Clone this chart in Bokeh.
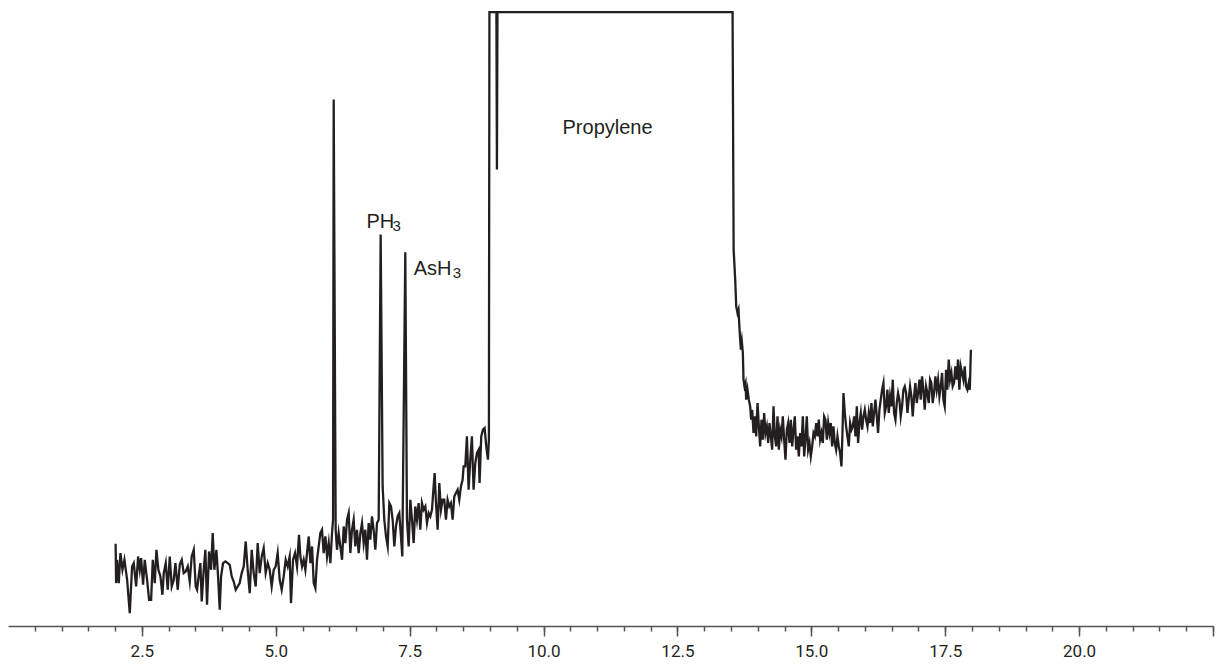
#!/usr/bin/env python3
# -*- coding: utf-8 -*-
from bokeh.core.properties import value
from bokeh.embed import file_html
from bokeh.models import FixedTicker, PrintfTickFormatter, Range1d
from bokeh.plotting import figure
from bokeh.resources import INLINE

# baseline before propylene (time in min, detector signal in arbitrary units)
early_time = [
    2.000, 2.009, 2.028, 2.059, 2.090, 2.128, 2.165, 2.215, 2.264, 2.308,
    2.339, 2.383, 2.420, 2.451, 2.476, 2.513, 2.544, 2.588, 2.625, 2.663,
    2.694, 2.731, 2.762, 2.799, 2.837, 2.874, 2.899, 2.936, 2.973, 3.011,
    3.048, 3.085, 3.117, 3.160, 3.197, 3.235, 3.272, 3.309, 3.347, 3.384,
    3.421, 3.459, 3.496, 3.521, 3.558, 3.583, 3.608, 3.645, 3.676, 3.707,
    3.745, 3.782, 3.813, 3.844, 3.882, 3.913, 3.944, 3.969, 4.006, 4.050,
    4.093, 4.131, 4.168, 4.205, 4.243, 4.280, 4.317, 4.354, 4.392, 4.429,
    4.466, 4.504, 4.541, 4.578, 4.616, 4.653, 4.690, 4.728, 4.765, 4.802,
    4.840, 4.877, 4.914, 4.952, 4.989, 5.026, 5.064, 5.101, 5.138, 5.176,
    5.213, 5.250, 5.275, 5.313, 5.350, 5.387, 5.424,
]
early_signal = [
    82.7, 43.4, 66.7, 43.4, 73.4, 56.7, 66.7, 46.7, 13.4, 60.0,
    63.4, 40.0, 70.0, 56.7, 68.4, 41.7, 66.7, 46.7, 26.7, 26.7,
    66.7, 43.4, 76.7, 56.7, 50.0, 31.7, 53.4, 63.4, 36.7, 70.0,
    40.0, 46.7, 63.4, 36.7, 61.7, 66.7, 53.4, 55.0, 60.0, 45.0,
    70.0, 76.7, 40.0, 36.7, 53.4, 63.4, 25.0, 56.7, 76.7, 21.7,
    75.0, 56.7, 93.4, 56.7, 76.7, 50.0, 16.7, 50.0, 63.4, 65.0,
    63.4, 61.7, 50.0, 45.0, 36.7, 40.0, 43.4, 53.4, 60.0, 85.0,
    56.7, 33.4, 76.7, 53.4, 40.0, 83.4, 53.4, 70.0, 78.4, 53.4,
    63.4, 56.7, 40.0, 56.7, 60.0, 73.4, 46.7, 36.7, 50.0, 66.7,
    60.0, 70.0, 23.4, 66.7, 73.4, 60.0, 91.7,
]

# peaks region (unknown, PH3, AsH3) up to the propylene front
peak_time = [
    5.450, 5.481, 5.512, 5.543, 5.574, 5.606, 5.637, 5.668, 5.699, 5.730,
    5.761, 5.792, 5.823, 5.854, 5.885, 5.917, 5.948, 5.979, 6.010, 6.041,
    6.060, 6.072, 6.109, 6.134, 6.165, 6.196, 6.228, 6.259, 6.290, 6.321,
    6.352, 6.383, 6.414, 6.445, 6.476, 6.507, 6.539, 6.570, 6.601, 6.632,
    6.663, 6.694, 6.725, 6.756, 6.787, 6.818, 6.850, 6.881, 6.912, 6.949,
    6.986, 7.017, 7.049, 7.080, 7.111, 7.142, 7.173, 7.204, 7.235, 7.266,
    7.297, 7.328, 7.353, 7.409, 7.440, 7.472, 7.503, 7.534, 7.565, 7.596,
    7.627, 7.658, 7.689, 7.720, 7.751, 7.783, 7.814, 7.845, 7.876, 7.907,
    7.938, 7.957, 7.982, 8.013, 8.044, 8.075, 8.106, 8.137, 8.168, 8.199,
    8.230, 8.261, 8.293, 8.324, 8.355, 8.386, 8.417, 8.448, 8.479, 8.498,
    8.529, 8.560, 8.591, 8.622, 8.653, 8.684, 8.716, 8.747, 8.778, 8.796,
    8.827, 8.859, 8.890, 8.921, 8.952, 8.970,
]
peak_signal = [
    70.0, 60.0, 66.7, 56.7, 73.4, 90.0, 63.4, 80.0, 43.4, 38.4,
    66.7, 80.0, 93.4, 96.7, 73.4, 90.0, 70.0, 83.4, 63.4, 93.4,
    106.7, 526.7, 96.7, 76.7, 93.4, 80.0, 66.7, 100.0, 83.4, 106.7,
    113.4, 73.4, 96.7, 106.7, 80.0, 96.7, 73.4, 93.4, 103.4, 83.4,
    96.7, 66.7, 103.4, 86.7, 110.0, 96.7, 76.7, 103.4, 106.7, 391.7,
    140.0, 106.7, 90.0, 80.0, 123.4, 120.0, 106.7, 80.0, 100.0, 110.0,
    113.4, 90.0, 70.0, 374.0, 106.7, 80.0, 126.7, 106.7, 83.4, 120.0,
    106.7, 123.4, 96.7, 123.4, 116.7, 120.0, 103.4, 113.4, 110.0, 116.7,
    140.0, 153.4, 123.4, 96.7, 143.4, 116.7, 126.7, 126.7, 106.7, 126.7,
    120.0, 123.4, 106.7, 130.0, 133.4, 136.7, 126.7, 140.0, 146.7, 160.0,
    160.0, 190.0, 136.7, 166.7, 190.0, 136.7, 163.4, 173.4, 176.7, 143.4,
    190.0, 196.7, 198.4, 180.0, 166.7, 186.7,
]

# saturated propylene band
propylene_time = [8.980, 9.110, 9.120, 9.130, 13.520, 13.540]
propylene_signal = [614.0, 614.0, 456.7, 614.0, 614.0, 376.7]

# tail after propylene
tail_time = [
    13.569, 13.588, 13.612, 13.631, 13.650, 13.675, 13.693, 13.712, 13.724, 13.743,
    13.762, 13.774, 13.799, 13.824, 13.849, 13.867, 13.886, 13.911, 13.936, 13.961,
    13.986, 14.011, 14.035, 14.060, 14.085, 14.110, 14.135, 14.160, 14.185, 14.210,
    14.235, 14.259, 14.284, 14.309, 14.334, 14.359, 14.384, 14.409, 14.434, 14.458,
    14.483, 14.508, 14.533, 14.558, 14.583, 14.608, 14.633, 14.658, 14.682, 14.707,
    14.732, 14.757, 14.782, 14.807, 14.832, 14.857, 14.881, 14.906, 14.931, 14.956,
    14.981, 15.006, 15.031, 15.056, 15.081, 15.105, 15.130, 15.155, 15.180, 15.205,
    15.230, 15.255, 15.280, 15.305, 15.329, 15.354, 15.379, 15.404, 15.429, 15.454,
    15.479, 15.504, 15.528, 15.553, 15.572, 15.591, 15.616, 15.640, 15.665, 15.690,
    15.715, 15.740, 15.765, 15.790, 15.815, 15.840, 15.864, 15.889, 15.914, 15.939,
    15.964, 15.989, 16.014, 16.039, 16.063, 16.088, 16.113, 16.138, 16.163, 16.188,
    16.213, 16.237, 16.262, 16.287, 16.312, 16.337, 16.362, 16.387, 16.411, 16.436,
    16.461, 16.486, 16.511, 16.536, 16.561, 16.586, 16.610, 16.635, 16.660, 16.685,
    16.710, 16.735, 16.760, 16.785, 16.809, 16.834, 16.859, 16.884, 16.909, 16.934,
    16.959, 16.984, 17.009, 17.033, 17.058, 17.083, 17.108, 17.133, 17.158, 17.183,
    17.208, 17.232, 17.257, 17.282, 17.307, 17.332, 17.357, 17.382, 17.407, 17.432,
    17.456, 17.481, 17.506, 17.531, 17.556, 17.581, 17.606, 17.630, 17.655, 17.680,
    17.705, 17.730, 17.755, 17.780, 17.805, 17.830, 17.855, 17.879, 17.904, 17.929,
    17.950, 17.970,
]
tail_signal = [
    346.7, 320.0, 313.4, 316.7, 296.7, 276.7, 285.0, 273.4, 246.7, 240.0,
    243.4, 226.7, 236.7, 226.7, 220.0, 206.7, 216.7, 193.4, 210.0, 190.0,
    223.4, 200.0, 180.0, 206.7, 186.7, 213.4, 193.4, 200.0, 183.4, 203.4,
    190.0, 176.7, 220.0, 190.0, 180.0, 210.0, 176.7, 196.7, 190.0, 210.0,
    186.7, 166.7, 196.7, 203.4, 183.4, 206.7, 180.0, 196.7, 210.0, 176.7,
    190.0, 170.0, 193.4, 180.0, 210.0, 170.0, 186.7, 210.0, 176.7, 183.4,
    170.0, 180.0, 193.4, 190.0, 203.4, 190.0, 206.7, 186.7, 193.4, 183.4,
    210.0, 206.7, 186.7, 203.4, 193.4, 203.4, 180.0, 200.0, 183.4, 176.7,
    190.0, 180.0, 173.4, 160.0, 193.4, 233.4, 213.4, 200.0, 190.0, 180.0,
    203.4, 196.7, 200.0, 210.0, 190.0, 220.0, 183.4, 203.4, 213.4, 196.7,
    210.0, 216.7, 206.7, 200.0, 213.4, 203.4, 223.4, 200.0, 213.4, 226.7,
    210.0, 193.4, 216.7, 226.7, 236.7, 243.4, 213.4, 220.0, 236.7, 213.4,
    230.0, 220.0, 246.7, 213.4, 206.7, 223.4, 233.4, 226.7, 210.0, 220.0,
    236.7, 240.0, 233.4, 213.4, 226.7, 240.0, 230.0, 210.0, 230.0, 243.4,
    223.4, 233.4, 246.7, 226.7, 250.0, 236.7, 216.7, 240.0, 233.4, 223.4,
    246.7, 243.4, 223.4, 233.4, 250.0, 236.7, 246.7, 230.0, 240.0, 253.4,
    226.7, 220.0, 256.7, 236.7, 266.7, 246.7, 253.4, 240.0, 243.4, 260.0,
    246.7, 266.7, 236.7, 260.0, 253.4, 246.7, 260.0, 240.0, 236.7, 243.4,
    236.7, 276.7,
]

# peak labels
label_text = ["PH", "AsH", "Propylene"]
label_time = [6.683, 7.565, 10.345]
label_signal = [405.0, 358.4, 499.0]
sub_text = ["3", "3"]

major_ticks = [2.5, 5.0, 7.5, 10.0, 12.5, 15.0, 17.5, 20.0, 22.5]
minor_ticks = [i * 0.5 for i in range(1, 46)]

INK = "#231f20"

time = early_time + peak_time + propylene_time + tail_time
signal = early_signal + peak_signal + propylene_signal + tail_signal

p = figure(
    frame_width=1205,
    frame_height=619,
    x_range=Range1d(0, 22.5),
    y_range=Range1d(0, 618.7),
    y_axis_location=None,
    output_backend="svg",
    toolbar_location=None,
    min_border_left=8,
    min_border_right=4,
    min_border_top=7,
    min_border_bottom=0,
)
p.grid.visible = False
p.outline_line_color = None

p.line(time, signal, line_color=INK, line_width=2.3, line_join="miter")

p.text(
    x=label_time, y=label_signal, text=label_text,
    text_font=value("Liberation Sans"), text_font_size="20px",
    text_color=INK, text_align="left", text_baseline="alphabetic",
)
p.text(
    x=label_time[:2], y=label_signal[:2], text=sub_text,
    x_offset=[26, 39], y_offset=[5, 5.5],
    text_font=value("Liberation Sans"), text_font_size="15px",
    text_color=INK, text_align="left", text_baseline="alphabetic",
)

ax = p.xaxis[0]
ax.ticker = FixedTicker(ticks=major_ticks, minor_ticks=minor_ticks)
ax.formatter = PrintfTickFormatter(format="%.1f")
ax.major_label_overrides = {22.5: ""}
ax.axis_line_color = "#555555"
ax.axis_line_width = 1.5
ax.major_tick_line_color = "#555555"
ax.minor_tick_line_color = "#555555"
ax.major_tick_line_width = 1.5
ax.minor_tick_line_width = 1.5
ax.major_tick_in = 0
ax.major_tick_out = 10
ax.minor_tick_in = 0
ax.minor_tick_out = 5
ax.major_label_text_font = "Roboto"
ax.major_label_text_font_size = "17px"
ax.major_label_text_color = INK
ax.major_label_standoff = 8

open("out.html", "w").write(file_html(p, INLINE, title="Propylene chromatogram"))
